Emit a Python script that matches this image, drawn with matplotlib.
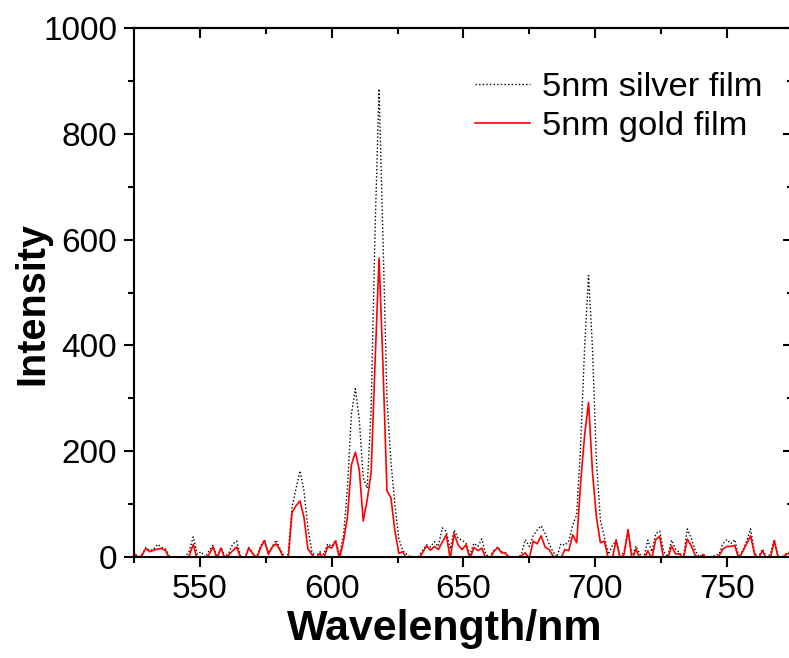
import numpy as np
import matplotlib
matplotlib.use('Agg')
import matplotlib.pyplot as plt
from matplotlib.ticker import MultipleLocator

plt.rcParams['font.family'] = ['Liberation Sans', 'DejaVu Sans']

# wavelength grid (nm), 1.5 nm step
wavelength = [525 + 1.5 * i for i in range(167)]

silver = [10, 0, 5, 18, 12, 15, 24, 18, 15, 0,
          -3, -5, -3, 0, 12, 38, 5, 10, 0, 12,
          22, 0, 18, 0, 8, 25, 30, 0, -3, 18,
          8, 0, 20, 33, 8, 20, 32, 15, 0, 5,
          95, 130, 163, 125, 55, 10, 0, 10, 5, 25,
          20, 32, 5, 40, 130, 270, 318, 260, 150, 130,
          280, 620, 885, 600, 300, 180, 100, 35, 12, 5,
          0, -3, 0, 12, 23, 19, 29, 20, 55, 48,
          15, 51, 35, 32, 26, 5, 26, 20, 34, 5,
          0, 12, 18, 10, 8, 0, -3, -3, 5, 33,
          20, 40, 51, 59, 45, 25, 10, 0, 25, 22,
          30, 60, 80, 210, 395, 532, 395, 180, 70, 38,
          5, 21, 32, 0, 10, 50, 0, 21, 5, 0,
          32, 10, 44, 49, 10, 0, 32, 15, 8, 0,
          53, 35, 12, 0, 5, 0, 0, 3, 5, 25,
          33, 25, 33, 0, 12, 30, 53, 8, 0, 15,
          0, 5, 33, 0, 0, 6, 10]

gold = [7, -3, 3, 16, 10, 13, 15, 16, 12, -5,
        -5, -5, -5, -5, 3, 24, -5, -5, -5, 5,
        19, -3, 17, -3, 4, 12, 19, -3, -5, 17,
        7, -3, 17, 31, 5, 19, 25, 12, -5, -5,
        85, 97, 106, 75, 15, 5, -5, 7, -3, 20,
        17, 30, -3, 30, 75, 174, 198, 165, 68, 108,
        160, 370, 565, 360, 125, 112, 50, 7, 10, -3,
        -5, -5, -3, 8, 21, 13, 20, 14, 28, 42,
        -3, 44, 23, 14, 23, -3, 18, 12, 17, -3,
        -5, 10, 18, 8, 7, -3, -5, -5, 2, 8,
        -3, 30, 25, 40, 19, 14, 2, -5, -3, 14,
        12, 42, 27, 140, 230, 292, 160, 75, 27, 30,
        -3, -3, 32, -3, 5, 52, -5, 15, -3, -5,
        12, -3, 33, 39, -3, -5, 21, 6, 6, -3,
        34, 21, 3, -3, 5, -5, -5, -3, 2, 15,
        20, 20, 22, -3, 10, 25, 40, 5, -3, 12,
        -3, -3, 31, -3, -3, 5, 8]

fig = plt.figure(figsize=(7.89, 6.58), dpi=100)
ax = fig.add_axes([134 / 789, 1 - 557 / 658, (792.75 - 134) / 789, (557 - 28) / 658])

ax.plot(wavelength, silver, color='black', linestyle=(0, (1, 1.6)), linewidth=1.0,
        label='5nm silver film')
ax.plot(wavelength, gold, color='red', linewidth=1.2, label='5nm gold film')

ax.set_xlim(525, 775)
ax.set_ylim(0, 1000)
ax.xaxis.set_major_locator(MultipleLocator(50))
ax.xaxis.set_minor_locator(MultipleLocator(25))
ax.yaxis.set_major_locator(MultipleLocator(200))
ax.yaxis.set_minor_locator(MultipleLocator(100))

for s in ax.spines.values():
    s.set_linewidth(1.5)

ax.tick_params(which='major', direction='out', length=7, width=1.5,
               labelsize=24, pad=5, top=False, right=False)
ax.tick_params(which='minor', direction='out', length=4, width=1.5,
               top=False, right=False)

# mirrored ticks on top and right point inward
sec_x = ax.secondary_xaxis('top')
sec_x.xaxis.set_major_locator(MultipleLocator(50))
sec_x.xaxis.set_minor_locator(MultipleLocator(25))
sec_x.tick_params(which='major', direction='in', length=7, width=1.5, labeltop=False)
sec_x.tick_params(which='minor', direction='in', length=4, width=1.5)
sec_x.spines['top'].set_linewidth(1.5)
sec_y = ax.secondary_yaxis('right')
sec_y.yaxis.set_major_locator(MultipleLocator(200))
sec_y.yaxis.set_minor_locator(MultipleLocator(100))
sec_y.tick_params(which='major', direction='in', length=7, width=1.5, labelright=False)
sec_y.tick_params(which='minor', direction='in', length=4, width=1.5)
sec_y.spines['right'].set_linewidth(1.5)

ax.set_xlabel('Wavelength/nm', fontsize=31, fontweight='bold')
ax.xaxis.set_label_coords(0.472, -0.098)
ax.set_ylabel('Intensity', fontsize=28.5, fontweight='bold')
ax.yaxis.set_label_coords(-0.125, 0.48)

ax.legend(loc='upper left', bbox_to_anchor=(475 / 789, 1 - 72 / 658),
          bbox_transform=fig.transFigure, frameon=False, fontsize=24.8,
          handlelength=1.6, handletextpad=0.35, labelspacing=0.24,
          borderpad=0, borderaxespad=0)

fig.savefig('out.png', dpi=100)
